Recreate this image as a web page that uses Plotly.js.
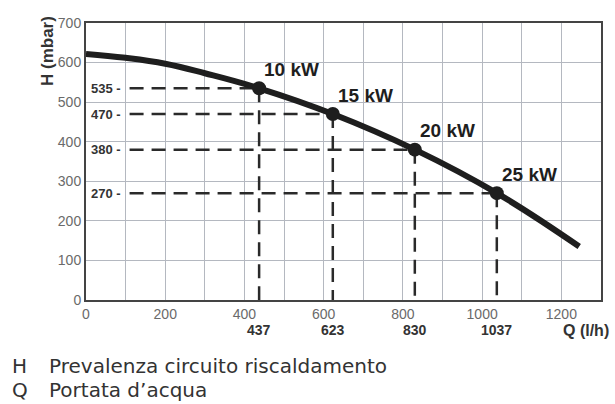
<!DOCTYPE html>
<html><head><meta charset="utf-8">
<script src="https://cdn.plot.ly/plotly-3.0.1.min.js"></script>
<style>body{margin:0;background:#fff}#c{width:615px;height:404px}</style>
</head><body><div id="c"></div>
<script>
// Pump curve (portata Q in l/h, prevalenza H in mbar)
const curveQ = [0, 100, 200, 300, 437, 623, 830, 1037, 1245];
const curveH = [622, 612, 597, 573, 535, 470, 380, 270, 135];
// Operating points
const pointQ = [437, 623, 830, 1037];
const pointH = [535, 470, 380, 270];
const pointLabels = ["10 kW", "15 kW", "20 kW", "25 kW"];
const xTicks = [0, 200, 400, 600, 800, 1000, 1200];
const yTicks = [0, 100, 200, 300, 400, 500, 600, 700];
const legendKeys = ["H", "Q"];
const legendTexts = ["Prevalenza circuito riscaldamento", "Portata d’acqua"];
const dashStartQ = 110;

const dark = '#1e1e1e';
const traces = [];
pointQ.forEach((q, i) => {
  traces.push({x: [dashStartQ, q], y: [pointH[i], pointH[i]], mode: 'lines',
    line: {color: '#2a2a2a', width: 2.5, dash: '14px,8px'}, hoverinfo: 'skip', showlegend: false});
  traces.push({x: [q, q], y: [pointH[i], 0], mode: 'lines',
    line: {color: '#2a2a2a', width: 2.5, dash: '14px,8px'}, hoverinfo: 'skip', showlegend: false});
});
traces.push({x: curveQ, y: curveH, mode: 'lines', line: {color: dark, width: 6, shape: 'spline', smoothing: 1.2}, showlegend: false});
traces.push({x: pointQ, y: pointH, mode: 'markers', marker: {color: dark, size: 14}, showlegend: false});

const boldFont = 'Arial, Liberation Sans, sans-serif';
const ann = [];
pointQ.forEach((q, i) => {
  ann.push({x: q, y: pointH[i], xref: 'x', yref: 'y', text: '<b>' + pointLabels[i] + '</b>', showarrow: false,
    xanchor: 'left', yanchor: 'middle', xshift: 3, yshift: 19, font: {family: boldFont, size: 19, color: dark}});
  ann.push({x: 8, y: pointH[i], xref: 'x', yref: 'y', text: '<b>' + pointH[i] + ' -</b>', showarrow: false,
    xanchor: 'left', yanchor: 'middle', font: {family: boldFont, size: 13, color: '#333'}});
  ann.push({x: q, y: 0, xref: 'x', yref: 'paper', text: '<b>' + q + '</b>', showarrow: false,
    xanchor: 'center', yanchor: 'middle', yshift: -30, font: {family: boldFont, size: 14, color: '#333'}});
});
ann.push({x: 1, y: 0, xref: 'paper', yref: 'paper', text: '<b>Q (l/h)</b>', showarrow: false,
  xanchor: 'right', yanchor: 'middle', xshift: 10, yshift: -30, font: {family: boldFont, size: 16, color: '#333'}});
ann.push({x: 0, y: 1, xref: 'paper', yref: 'paper', text: '<b>H (mbar)</b>', showarrow: false, textangle: -90,
  xanchor: 'center', yanchor: 'top', xshift: -39, yshift: 9, font: {family: boldFont, size: 17, color: '#333'}});
// legend block: line spacing from the base font, glyphs drawn at 20px
const big = s => '<span style="font-size:20px">' + s + '</span>';
const legendFont = {family: 'DejaVu Sans, sans-serif', size: 18.1, color: '#333'};
ann.push({x: 0, y: 0, xref: 'paper', yref: 'paper', text: legendKeys.map(big).join('<br>'), showarrow: false, align: 'left',
  xanchor: 'left', yanchor: 'middle', xshift: -76, yshift: -78, font: legendFont});
ann.push({x: 0, y: 0, xref: 'paper', yref: 'paper', text: legendTexts.map(big).join('<br>'), showarrow: false, align: 'left',
  xanchor: 'left', yanchor: 'middle', xshift: -39, yshift: -78, font: legendFont});

const layout = {
  width: 615, height: 404,
  margin: {l: 86, r: 14, t: 23, b: 104},
  paper_bgcolor: '#fff', plot_bgcolor: '#fff',
  font: {family: boldFont, size: 14, color: '#6a6a6a'},
  xaxis: {range: [0, 1300], tickvals: xTicks, ticktext: xTicks.map(String), showgrid: true, gridcolor: '#b4b8c0', gridwidth: 1,
    minor: {dtick: 100, showgrid: true, gridcolor: '#b4b8c0', gridwidth: 1},
    showline: true, linecolor: '#444', linewidth: 2, mirror: true, zeroline: false, ticks: '', tickfont: {size: 14, color: '#6a6a6a'}},
  yaxis: {range: [0, 700], tickvals: yTicks, ticktext: yTicks.map(String), showgrid: true, gridcolor: '#b4b8c0', gridwidth: 1,
    showline: true, linecolor: '#444', linewidth: 2, mirror: true, zeroline: false, ticks: '', tickfont: {size: 14, color: '#6a6a6a'}},
  annotations: ann
};
Plotly.newPlot('c', traces, layout, {staticPlot: true});
</script></body></html>
